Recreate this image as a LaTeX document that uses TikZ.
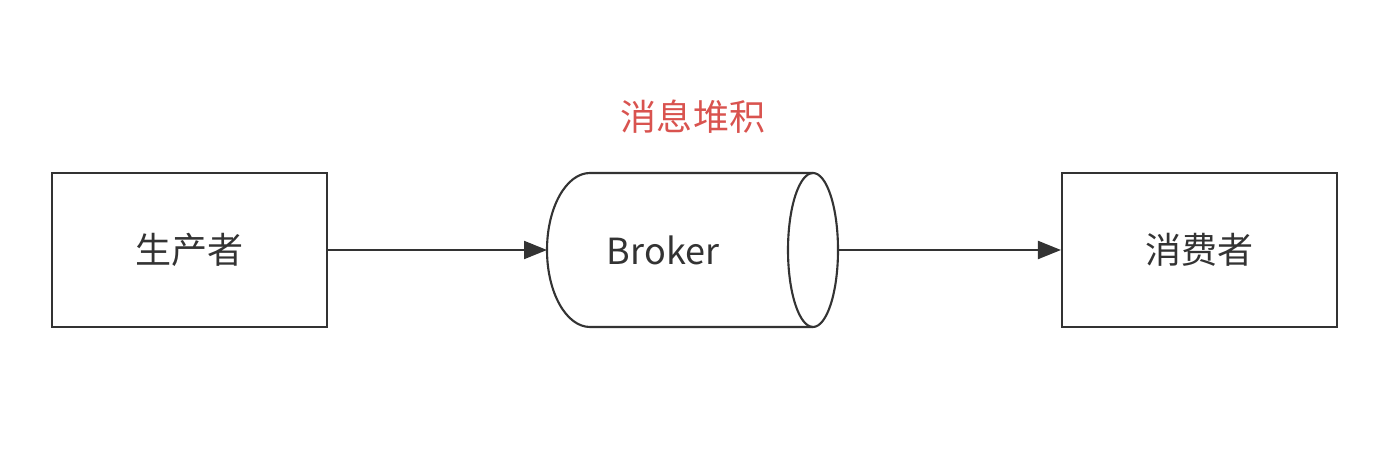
\documentclass[tikz,border=0pt]{standalone}
\usepackage{fontspec}
\setmainfont{Noto Sans CJK SC}
\usetikzlibrary{arrows.meta}
\definecolor{linegray}{HTML}{333333}
\definecolor{notered}{HTML}{D9534F}
\tikzset{
  block/.style={draw=linegray,line width=1.2pt,minimum width=5.5cm,minimum height=3.08cm,text=linegray,font=\fontsize{20.5}{24}\selectfont},
  flow/.style={draw=linegray,line width=1.2pt,-{Triangle[length=0.46cm,width=0.36cm]}}
}
\begin{document}
\begin{tikzpicture}
		\useasboundingbox (0,0) rectangle (27.98,9.22);
		\node[block] (producer) at (3.79,4.22) {生产者};
		\node[block] (consumer) at (23.99,4.22) {消费者};
		%broker cylinder
		\draw[linegray,line width=1.2pt] (16.26,5.76) -- (11.8,5.76) arc[start angle=90,end angle=270,x radius=0.86,y radius=1.54] -- (16.26,2.68);
		\draw[linegray,line width=1.2pt] (16.26,4.22) ellipse [x radius=0.5,y radius=1.54];
		\node[text=linegray,font=\fontsize{20.5}{24}\selectfont] (broker) at (13.26,4.22) {Broker};
		\coordinate (brokerin) at (10.94,4.22);
		\coordinate (brokerout) at (16.76,4.22);
		\node[text=notered,font=\fontsize{20.5}{24}\selectfont] (backlog) at (13.86,6.88) {消息堆积};
		%connectors
		\draw[flow] (producer.east) -- (brokerin);
		\draw[flow] (brokerout) -- (consumer.west);
		\end{tikzpicture}
\end{document}
